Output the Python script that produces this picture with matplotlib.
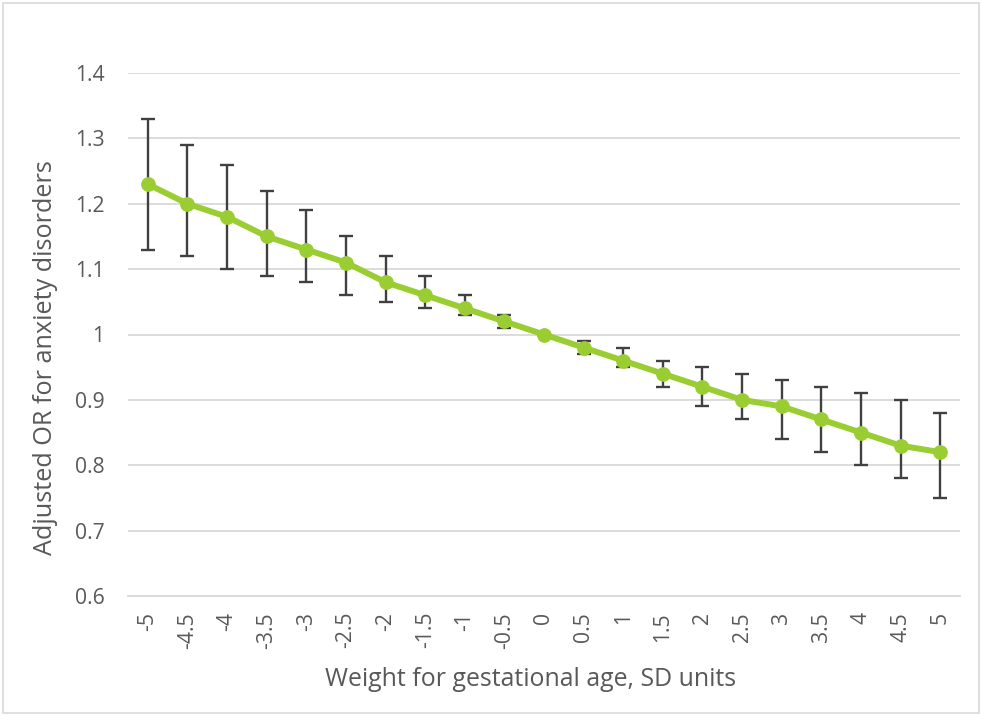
import matplotlib
matplotlib.use("Agg")
import matplotlib.pyplot as plt
from matplotlib.patches import Rectangle

categories = ["-5", "-4.5", "-4", "-3.5", "-3", "-2.5", "-2", "-1.5", "-1", "-0.5",
              "0", "0.5", "1", "1.5", "2", "2.5", "3", "3.5", "4", "4.5", "5"]
odds_ratio = [1.23, 1.20, 1.18, 1.15, 1.13, 1.11, 1.08, 1.06, 1.04, 1.02,
              1.00, 0.98, 0.96, 0.94, 0.92, 0.90, 0.89, 0.87, 0.85, 0.83, 0.82]
ci_lower = [1.13, 1.12, 1.10, 1.09, 1.08, 1.06, 1.05, 1.04, 1.03, 1.01,
            1.00, 0.97, 0.95, 0.92, 0.89, 0.87, 0.84, 0.82, 0.80, 0.78, 0.75]
ci_upper = [1.33, 1.29, 1.26, 1.22, 1.19, 1.15, 1.12, 1.09, 1.06, 1.03,
            1.00, 0.99, 0.98, 0.96, 0.95, 0.94, 0.93, 0.92, 0.91, 0.90, 0.88]
y_ticks = [0.6, 0.7, 0.8, 0.9, 1.0, 1.1, 1.2, 1.3, 1.4]
y_tick_labels = ["0.6", "0.7", "0.8", "0.9", "1", "1.1", "1.2", "1.3", "1.4"]

plt.rcParams['font.family'] = ['Open Sans', 'DejaVu Sans']

W, H = 982, 716
fig = plt.figure(figsize=(W / 100, H / 100), dpi=100)
fig.patches.append(Rectangle((3 / W, 3 / H), 1 - 6 / W, 1 - 6 / H, transform=fig.transFigure,
                             fill=False, edgecolor="#D9D9D9", linewidth=1.2))

ax = fig.add_axes([128 / W, 1 - 596 / H, (960 - 128) / W, (596 - 73) / H])
x = list(range(len(categories)))
yerr_low = [v - l for v, l in zip(odds_ratio, ci_lower)]
yerr_high = [u - v for v, u in zip(odds_ratio, ci_upper)]

ax.errorbar(x, odds_ratio, yerr=[yerr_low, yerr_high], fmt="none", ecolor="#404040",
            elinewidth=1.7, capsize=4.7, capthick=1.7, zorder=3)
ax.plot(x, odds_ratio, color="#9ACD32", linewidth=4.3, marker="o", markersize=9.6,
        markerfacecolor="#9ACD32", markeredgecolor="#9ACD32", zorder=4)

ax.set_xlim(-0.5, len(categories) - 0.5)
ax.set_ylim(0.6, 1.4)
ax.set_yticks(y_ticks)
ax.set_yticklabels(y_tick_labels)
ax.set_xticks(x)
ax.set_xticklabels(categories, rotation=90)
ax.yaxis.grid(True, color="#D9D9D9", linewidth=1.3)
ax.set_axisbelow(True)
for s in ["top", "right", "left"]:
    ax.spines[s].set_visible(False)
ax.spines["bottom"].set_color("#D9D9D9")
ax.spines["bottom"].set_linewidth(1.3)
ax.tick_params(axis="both", length=0, labelsize=15.2, colors="#595959")
ax.tick_params(axis="y", pad=17)
ax.tick_params(axis="x", pad=11.5)

ax.set_xlabel("Weight for gestational age, SD units", fontsize=17.9, color="#595959",
              va="baseline")
ax.xaxis.set_label_coords(0.484, (596 - 686) / 523)
ax.set_ylabel("Adjusted OR for anxiety disorders", fontsize=18.2, color="#595959",
              va="center")
ax.yaxis.set_label_coords((46 - 128) / 832, (596 - 357.5) / 523)

fig.savefig("out.png", dpi=100, facecolor="white")
